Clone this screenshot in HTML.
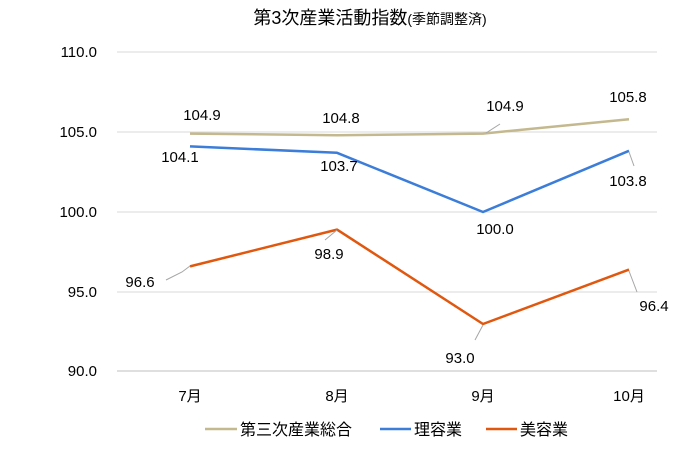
<!DOCTYPE html>
<html><head><meta charset="utf-8"><style>
body{margin:0;background:#fff;}
text{font-family:"Liberation Sans","Noto Sans CJK JP",sans-serif;fill:#000;}
</style></head><body>
<svg width="700" height="446" viewBox="0 0 700 446" xmlns="http://www.w3.org/2000/svg">
<text x="370" y="24" font-size="18" text-anchor="middle">第3次産業活動指数<tspan font-size="14">(季節調整済)</tspan></text>
<g stroke="#d9d9d9" stroke-width="1">
<line x1="117" y1="52" x2="657" y2="52"/><line x1="117" y1="132" x2="657" y2="132"/>
<line x1="117" y1="212" x2="657" y2="212"/><line x1="117" y1="292" x2="657" y2="292"/>
<line x1="117" y1="371" x2="657" y2="371" stroke="#bfbfbf"/>
</g>
<g font-size="15" text-anchor="end">
<text x="97" y="57">110.0</text><text x="97" y="137">105.0</text><text x="97" y="217">100.0</text>
<text x="97" y="297">95.0</text><text x="97" y="376">90.0</text>
</g>
<g font-size="15" text-anchor="middle">
<text x="190" y="401">7月</text><text x="337" y="401">8月</text><text x="483" y="401">9月</text><text x="629" y="401">10月</text>
</g>
<g fill="none" stroke-width="2.5" stroke-linejoin="round">
<polyline stroke="#c4b88e" points="190,133.6 337,135.2 483,133.6 629,119.2"/>
<polyline stroke="#3b7dd8" points="190,146.4 337,152.8 483,212 629,150.8"/>
<polyline stroke="#e0580f" points="190,266.4 337,229.6 483,324 629,269.6"/>
</g>
<g stroke="#a6a6a6" stroke-width="1" fill="none">
<polyline points="190,266 182,272 166,280"/>
<line x1="337" y1="230" x2="325" y2="240"/>
<line x1="483" y1="325" x2="475" y2="340"/>
<line x1="629" y1="271" x2="637" y2="292"/>
<line x1="629" y1="152" x2="634" y2="166"/>
<line x1="486" y1="133" x2="500" y2="124"/>
</g>
<g font-size="15" text-anchor="middle">
<text x="202" y="120">104.9</text><text x="341" y="123">104.8</text><text x="505" y="111">104.9</text><text x="628" y="102">105.8</text>
<text x="180" y="162">104.1</text><text x="339" y="171">103.7</text><text x="495" y="234">100.0</text><text x="628" y="186">103.8</text>
<text x="140" y="287">96.6</text><text x="329" y="259">98.9</text><text x="460" y="363">93.0</text><text x="654" y="311">96.4</text>
</g>
<g stroke-width="2.5">
<line x1="205" y1="429" x2="237" y2="429" stroke="#c4b88e"/>
<line x1="380" y1="429" x2="411" y2="429" stroke="#3b7dd8"/>
<line x1="486" y1="429" x2="517" y2="429" stroke="#e0580f"/>
</g>
<g font-size="16">
<text x="240" y="435">第三次産業総合</text><text x="414" y="435">理容業</text><text x="520" y="435">美容業</text>
</g>
</svg>
</body></html>
